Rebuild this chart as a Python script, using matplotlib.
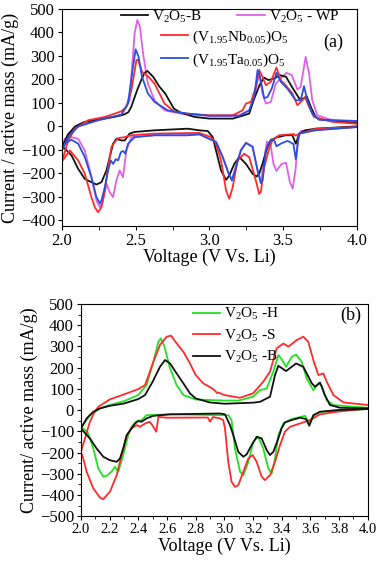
import matplotlib
matplotlib.use("Agg")
import matplotlib.pyplot as plt
from matplotlib.lines import Line2D
from matplotlib.ticker import MultipleLocator

plt.rcParams['font.family'] = ['Liberation Serif', 'DejaVu Serif']
plt.rcParams['mathtext.fontset'] = 'custom'
plt.rcParams['mathtext.rm'] = 'Liberation Serif'
plt.rcParams['mathtext.it'] = 'Liberation Serif:italic'

# ---------------- panel (a) data: anodic (up) and cathodic (down) branches ----------------
a_B_up_V = [2.00, 2.04, 2.09, 2.15, 2.25, 2.35, 2.42, 2.45, 2.47, 2.51, 2.54, 2.56, 2.58, 2.62, 2.66, 2.70, 2.76,
            2.81, 2.90, 3.00, 3.16, 3.27, 3.30, 3.34, 3.37, 3.40, 3.44, 3.48, 3.52, 3.56, 3.61, 3.64, 3.66, 3.69,
            3.72, 3.75, 3.83, 4.00]
a_B_up_I = [-90, -35, 0, 18, 30, 40, 50, 60, 83, 154, 200, 228, 236, 210, 170, 140, 75,
            57, 40, 33, 33, 54, 111, 175, 208, 197, 204, 218, 211, 168, 118, 118, 128, 80,
            40, 30, 23, 14]
a_B_dn_V = [4.00, 3.72, 3.65, 3.61, 3.586, 3.563, 3.518, 3.45, 3.417, 3.394, 3.36, 3.338, 3.32, 3.293, 3.248,
            3.203, 3.169, 3.135, 3.113, 3.079, 3.045, 3.023, 2.989, 2.932, 2.853, 2.628, 2.493, 2.459, 2.426,
            2.403, 2.369, 2.347, 2.324, 2.302, 2.268, 2.234, 2.20, 2.155, 2.11, 2.065, 2.02, 2.00]
a_B_dn_I = [0, -10, -17, -31, -74, -38, -38, -48, -60, -88, -160, -202, -214, -202, -160,
            -131, -160, -210, -228, -188, -103, -46, -20, -17, -10, -17, -24, -31, -60,
            -60, -53, -74, -131, -188, -238, -248, -238, -224, -181, -124, -95, -90]

a_WP_up_V = [2.00, 2.043, 2.09, 2.245, 2.403, 2.459, 2.493, 2.511, 2.529, 2.55, 2.583, 2.628, 2.696, 2.809, 3.00,
             3.203, 3.27, 3.304, 3.338, 3.36, 3.383, 3.417, 3.45, 3.484, 3.522, 3.559, 3.597, 3.619, 3.653,
             3.676, 3.698, 3.732, 3.833, 4.00]
a_WP_up_I = [-90, -40, -5, 26, 47, 111, 396, 453, 425, 310, 182, 111, 68, 54, 45,
             47, 68, 125, 225, 140, 97, 104, 182, 204, 228, 218, 157, 168, 296,
             225, 111, 47, 26, 19]
a_WP_dn_V = [4.00, 3.743, 3.676, 3.62, 3.60, 3.585, 3.565, 3.545, 3.52, 3.49, 3.455, 3.435, 3.415, 3.39, 3.37,
             3.35, 3.327, 3.293, 3.248, 3.214, 3.18, 3.153, 3.131, 3.09, 3.045, 2.932, 2.853, 2.628, 2.471,
             2.437, 2.414, 2.392, 2.369, 2.347, 2.324, 2.302, 2.279, 2.257, 2.234, 2.20, 2.155, 2.11, 2.065,
             2.02, 2.00]
a_WP_dn_I = [-3, -14, -17, -20, -60, -180, -266, -235, -155, -160, -190, -160, -80, -65, -150,
             -235, -188, -85, -70, -100, -170, -228, -200, -128, -65, -34, -38, -38, -46,
             -103, -217, -188, -231, -302, -281, -245, -316, -345, -316, -217, -103, -53, -46,
             -53, -90]

a_Nb_up_V = [2.00, 2.043, 2.088, 2.178, 2.291, 2.403, 2.437, 2.471, 2.505, 2.516, 2.543, 2.583, 2.628, 2.696,
             2.764, 2.853, 3.00, 3.158, 3.225, 3.248, 3.282, 3.315, 3.338, 3.36, 3.383, 3.417, 3.455, 3.484,
             3.518, 3.563, 3.597, 3.631, 3.649, 3.676, 3.709, 3.833, 4.00]
a_Nb_up_I = [-150, -60, -10, 26, 40, 64, 83, 154, 282, 285, 232, 214, 182, 97,
             61, 54, 47, 47, 68, 97, 104, 168, 240, 211, 175, 190, 251, 197,
             175, 140, 90, 111, 125, 83, 40, 19, 11]
a_Nb_dn_V = [4.00, 3.72, 3.653, 3.608, 3.586, 3.574, 3.473, 3.428, 3.405, 3.372, 3.349, 3.338, 3.315, 3.27,
             3.236, 3.191, 3.158, 3.135, 3.113, 3.079, 3.045, 3.011, 2.932, 2.628, 2.471, 2.426, 2.381, 2.358,
             2.336, 2.313, 2.291, 2.268, 2.245, 2.223, 2.20, 2.155, 2.11, 2.054, 2.00]
a_Nb_dn_I = [-3, -10, -24, -31, -40, -33, -38, -60, -95, -174, -280, -288, -231, -131,
             -117, -145, -260, -309, -273, -145, -74, -46, -28, -31, -38, -46, -50, -67,
             -88, -174, -273, -345, -366, -345, -302, -202, -145, -103, -150]

a_Ta_up_V = [2.00, 2.043, 2.11, 2.245, 2.403, 2.448, 2.482, 2.50, 2.52, 2.543, 2.583, 2.628, 2.718, 2.853, 3.00,
             3.203, 3.27, 3.304, 3.327, 3.342, 3.372, 3.394, 3.423, 3.455, 3.484, 3.529, 3.586, 3.619, 3.642,
             3.664, 3.698, 3.743, 4.00]
a_Ta_up_I = [-103, -46, 0, 26, 50, 97, 254, 328, 296, 211, 140, 104, 68, 54, 45,
             45, 68, 125, 240, 215, 120, 125, 161, 228, 190, 161, 111, 111, 171,
             111, 54, 28, 23]
a_Ta_dn_V = [4.00, 3.72, 3.608, 3.586, 3.57, 3.53, 3.49, 3.455, 3.44, 3.42, 3.40, 3.383, 3.36, 3.349, 3.327,
             3.293, 3.248, 3.214, 3.18, 3.153, 3.131, 3.09, 3.045, 2.932, 2.853, 2.628, 2.493, 2.448, 2.43,
             2.415, 2.40, 2.381, 2.365, 2.347, 2.331, 2.313, 2.291, 2.268, 2.257, 2.234, 2.20, 2.155, 2.11,
             2.065, 2.02, 2.00]
a_Ta_dn_I = [-3, -17, -31, -140, -75, -62, -72, -85, -60, -55, -75, -103, -231, -242, -188,
             -88, -71, -103, -174, -231, -202, -131, -67, -34, -38, -38, -46, -74, -117,
             -105, -110, -145, -140, -160, -145, -188, -259, -316, -328, -302, -217, -131, -74,
             -57, -74, -103]

# ---------------- panel (b) data ----------------
b_H_up_V = [2.00, 2.063, 2.133, 2.20, 2.30, 2.40, 2.458, 2.505, 2.54, 2.556, 2.579, 2.621, 2.667, 2.714, 2.80,
            3.00, 3.10, 3.20, 3.248, 3.295, 3.341, 3.376, 3.399, 3.43, 3.469, 3.50, 3.539, 3.574, 3.62,
            3.655, 3.678, 3.713, 3.76, 3.90, 4.00]
b_H_up_I = [-85, -24, 8, 24, 42, 71, 118, 228, 322, 338, 307, 197, 118, 71, 50,
            45, 45, 63, 94, 102, 181, 259, 240, 204, 251, 262, 228, 149, 94,
            126, 115, 47, 24, 16, 11]
b_H_dn_V = [4.00, 3.667, 3.62, 3.592, 3.562, 3.527, 3.469, 3.411, 3.376, 3.353, 3.33, 3.306, 3.271, 3.236,
            3.202, 3.167, 3.132, 3.109, 3.074, 3.05, 3.027, 2.969, 2.621, 2.458, 2.423, 2.388, 2.353, 2.33,
            2.295, 2.26, 2.237, 2.214, 2.18, 2.156, 2.121, 2.086, 2.051, 2.016, 2.00]
b_H_dn_I = [5, -8, -27, -63, -27, -33, -42, -63, -118, -228, -299, -275, -181, -126,
            -149, -244, -307, -291, -181, -47, -24, -24, -20, -24, -47, -52, -79, -118,
            -212, -291, -267, -290, -310, -314, -275, -181, -110, -86, -85]

b_S_up_V = [2.00, 2.03, 2.06, 2.09, 2.12, 2.20, 2.30, 2.40, 2.447, 2.505, 2.551, 2.598, 2.628, 2.667, 2.714,
            2.76, 2.80, 2.853, 2.923, 2.95, 2.958, 3.00, 3.109, 3.20, 3.271, 3.318, 3.364, 3.411, 3.446, 3.504,
            3.55, 3.585, 3.62, 3.655, 3.69, 3.713, 3.76, 3.83, 4.00]
b_S_up_I = [-196, -130, -60, -15, 15, 50, 74, 99, 118, 228, 307, 346, 351, 315, 275,
            220, 165, 126, 99, 80, 83, 71, 58, 79, 134, 181, 291, 314, 299, 330,
            346, 322, 236, 165, 173, 134, 71, 36, 24]
b_S_dn_V = [4.00, 3.783, 3.667, 3.597, 3.527, 3.457, 3.422, 3.388, 3.353, 3.318, 3.283, 3.26, 3.225, 3.197,
            3.167, 3.132, 3.097, 3.074, 3.05, 3.027, 3.004, 2.992, 2.969, 2.92, 2.90, 2.885, 2.60, 2.54,
            2.525, 2.505, 2.48, 2.447, 2.412, 2.388, 2.353, 2.319, 2.295, 2.249, 2.202, 2.156, 2.133, 2.086,
            2.04, 2.016, 2.00]
b_S_dn_I = [8, -8, -20, -47, -63, -79, -102, -165, -244, -307, -330, -314, -244, -212,
            -228, -291, -354, -362, -338, -244, -86, -47, -39, -33, -55, -35, -36, -32,
            -102, -79, -55, -63, -79, -71, -86, -121, -181, -307, -385, -420, -413, -369,
            -291, -228, -196]

b_B_up_V = [2.00, 2.04, 2.086, 2.133, 2.20, 2.30, 2.40, 2.447, 2.50, 2.551, 2.586, 2.621, 2.667, 2.714, 2.76,
            2.80, 2.90, 3.00, 3.20, 3.248, 3.295, 3.318, 3.353, 3.376, 3.43, 3.50, 3.55, 3.61, 3.632, 3.667,
            3.70, 3.736, 3.806, 4.00]
b_B_up_I = [-86, -39, -8, 8, 20, 31, 52, 71, 134, 204, 236, 220, 173, 126, 79,
            55, 36, 30, 35, 39, 55, 63, 165, 209, 184, 220, 204, 126, 110, 130,
            71, 24, 11, 8]
b_B_dn_V = [4.00, 3.783, 3.667, 3.62, 3.592, 3.569, 3.527, 3.469, 3.422, 3.399, 3.376, 3.341, 3.318, 3.295,
            3.26, 3.225, 3.19, 3.155, 3.132, 3.097, 3.062, 3.039, 3.004, 2.969, 2.621, 2.505, 2.458, 2.423,
            2.40, 2.377, 2.353, 2.319, 2.295, 2.272, 2.249, 2.20, 2.156, 2.109, 2.063, 2.016, 2.00]
b_B_dn_I = [5, 0, -8, -24, -74, -42, -36, -47, -58, -86, -134, -197, -212, -189,
            -134, -126, -165, -209, -220, -197, -118, -71, -20, -16, -20, -27, -39, -55,
            -52, -63, -86, -118, -181, -228, -244, -236, -220, -181, -134, -99, -86]

colors = {'B': '#111111', 'WP': '#e060e8', 'Nb': '#ff2a2a', 'Ta': '#2a4fe0', 'H': '#22e022', 'S': '#ff2a2a'}
lw = 1.3

fig = plt.figure(figsize=[3.8, 5.61], dpi=100)

# -------------------- panel (a) --------------------
ax1 = fig.add_axes([0.163, 0.597, 0.776, 0.387])
for key, up, dn in [('WP', (a_WP_up_V, a_WP_up_I), (a_WP_dn_V, a_WP_dn_I)),
                    ('B', (a_B_up_V, a_B_up_I), (a_B_dn_V, a_B_dn_I)),
                    ('Nb', (a_Nb_up_V, a_Nb_up_I), (a_Nb_dn_V, a_Nb_dn_I)),
                    ('Ta', (a_Ta_up_V, a_Ta_up_I), (a_Ta_dn_V, a_Ta_dn_I))]:
    ax1.plot(up[0], up[1], color=colors[key], lw=lw)
    ax1.plot(dn[0], dn[1], color=colors[key], lw=lw)

ax1.set_xlim(2.0, 4.0)
ax1.set_ylim(-425, 500)
ax1.xaxis.set_major_locator(MultipleLocator(0.5))
ax1.xaxis.set_minor_locator(MultipleLocator(0.25))
ax1.yaxis.set_major_locator(MultipleLocator(100))
ax1.tick_params(direction='out', labelsize=12, length=3, pad=2)
ax1.tick_params(which='minor', direction='out', length=3)
ax1.set_xlabel("Voltage (V Vs. Li)", fontsize=13, labelpad=0)
ax1.set_ylabel("Current / active mass (mA/g)", fontsize=13, labelpad=1)
ax1.text(0.92, 0.845, "(a)", transform=ax1.transAxes, fontsize=13, ha='center', va='center')

h = lambda c: Line2D([], [], color=c, lw=lw)
leg1 = ax1.legend([h(colors['B']), h(colors['WP'])], ["V$_2$O$_5$-B", "V$_2$O$_5$ - WP"], ncol=2,
                  loc='center left', bbox_to_anchor=(0.2, 0.965), frameon=False, fontsize=11,
                  handlelength=1.8, handletextpad=0.25, columnspacing=2.3, borderpad=0, borderaxespad=0)
ax1.add_artist(leg1)
ax1.legend([h(colors['Nb']), h(colors['Ta'])],
           ["(V$_{1.95}$Nb$_{0.05}$)O$_5$", "(V$_{1.95}$Ta$_{0.05}$)O$_5$"],
           loc='upper left', bbox_to_anchor=(0.335, 0.91), frameon=False, fontsize=11,
           handlelength=1.8, handletextpad=0.25, labelspacing=0.35, borderpad=0, borderaxespad=0)

# -------------------- panel (b) --------------------
ax2 = fig.add_axes([0.213, 0.080, 0.755, 0.378])
lines_b = []
for key, up, dn in [('H', (b_H_up_V, b_H_up_I), (b_H_dn_V, b_H_dn_I)),
                    ('S', (b_S_up_V, b_S_up_I), (b_S_dn_V, b_S_dn_I)),
                    ('B', (b_B_up_V, b_B_up_I), (b_B_dn_V, b_B_dn_I))]:
    l, = ax2.plot(up[0], up[1], color=colors[key], lw=lw)
    ax2.plot(dn[0], dn[1], color=colors[key], lw=lw)
    lines_b.append(l)

ax2.set_xlim(2.0, 4.0)
ax2.set_ylim(-500, 500)
ax2.xaxis.set_major_locator(MultipleLocator(0.2))
ax2.xaxis.set_minor_locator(MultipleLocator(0.1))
ax2.yaxis.set_major_locator(MultipleLocator(100))
ax2.yaxis.set_minor_locator(MultipleLocator(50))
ax2.tick_params(direction='out', labelsize=12, length=3, pad=2)
ax2.tick_params(axis='x', labelsize=10.5)
ax2.tick_params(which='minor', direction='out', length=2)
ax2.set_xlabel("Voltage (V Vs. Li)", fontsize=13, labelpad=1)
ax2.set_ylabel("Current/ active mass (mA/g)", fontsize=13, labelpad=1)
ax2.text(0.94, 0.945, "(b)", transform=ax2.transAxes, fontsize=13, ha='center', va='center')
ax2.legend(lines_b, ["V$_2$O$_5$ -H", "V$_2$O$_5$ -S", "V$_2$O$_5$ -B"],
           loc='upper left', bbox_to_anchor=(0.39, 0.99), frameon=False, fontsize=11,
           handlelength=1.8, handletextpad=0.25, labelspacing=0.35, borderpad=0, borderaxespad=0)

fig.savefig("out.png", dpi=100)
